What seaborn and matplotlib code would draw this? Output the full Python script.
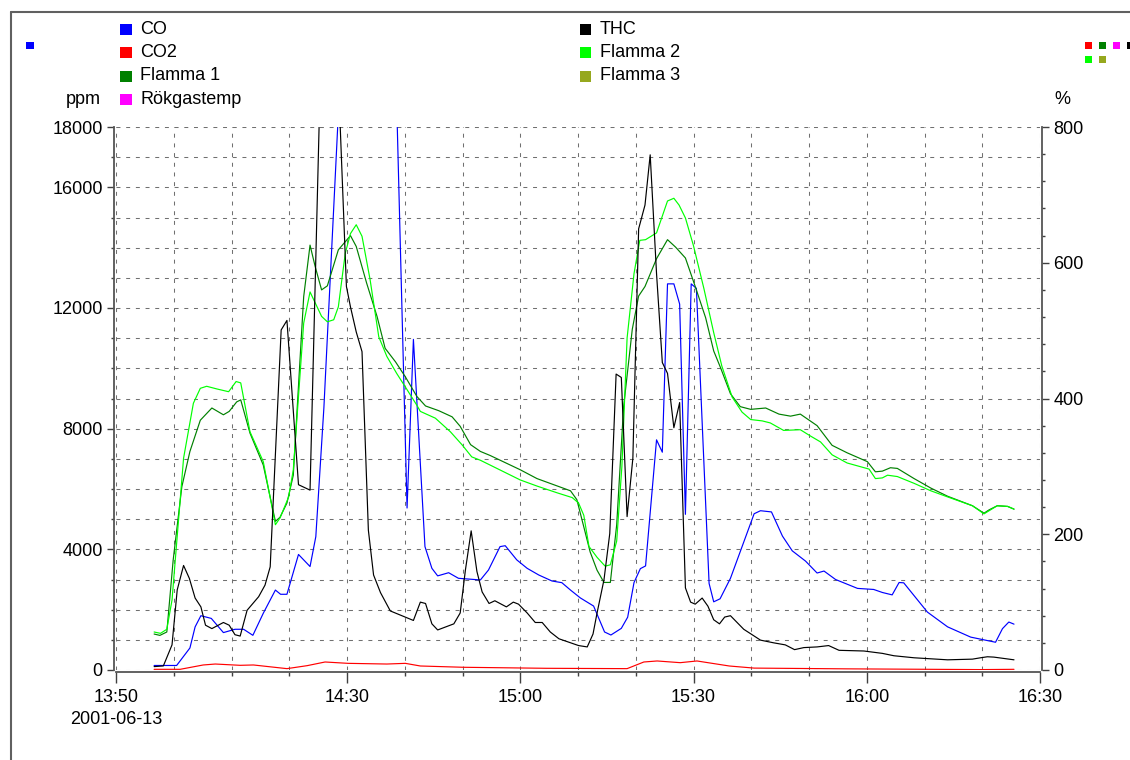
import numpy as np
import pandas as pd
import matplotlib
matplotlib.use("Agg")
import matplotlib.pyplot as plt
import matplotlib.dates as mdates
import matplotlib.transforms as mtransforms
from matplotlib.ticker import FixedLocator, MultipleLocator
from matplotlib.patches import Rectangle
from matplotlib.lines import Line2D
import seaborn as sns

START = pd.Timestamp("2001-06-13 13:50")
DATE_LABEL = "2001-06-13"

# ---- data: minutes after 13:50 and values ----
# CO (ppm, left axis)
co_t = [6.6, 10.5, 12.8, 13.7, 14.7, 16.5, 18.6, 20.6, 22.1, 23.7, 25.5, 27.6, 28.5, 29.6, 31.6, 33.6, 34.6, 36.0,
        38.9, 44.0, 48.6, 50.4, 51.5, 53.5, 54.7, 55.7, 57.6, 59.3, 63.1, 64.5, 66.5, 67.4, 69.4, 71.2, 73.2, 75.5,
        77.2, 78.7, 80.4, 82.7, 84.6, 85.7, 87.5, 88.6, 89.7, 90.8, 91.7, 93.6, 94.6, 95.5, 96.6, 97.6, 98.6, 99.6,
        100.5, 102.7, 103.5, 104.6, 106.4, 110.5, 111.6, 113.5, 115.4, 117.1, 119.4, 121.4, 122.6, 124.6, 128.4,
        131.2, 132.7, 134.4, 135.6, 136.4, 140.5, 144.0, 148.0, 152.3, 153.5, 154.6, 155.5]
co_v = [150, 150, 730, 1430, 1800, 1710, 1240, 1350, 1350, 1150, 1880, 2650, 2510, 2510, 3830, 3430, 4420, 8700,
        20000, 24000, 18800, 5370, 10960, 4090, 3370, 3120, 3225, 3040, 2985, 3315, 4090, 4120, 3650, 3370, 3150, 2950,
        2895, 2650, 2390, 2120, 1260, 1160, 1380, 1750, 2900, 3360, 3450, 7630, 7220, 12800, 12800, 12130, 5160, 12800,
        12650, 2870, 2260, 2360, 3040, 5180, 5280, 5240, 4440, 3950, 3610, 3215, 3280, 3000, 2705,
        2670, 2570, 2490, 2900, 2890, 1920, 1430, 1090, 920, 1370, 1590, 1520]

# THC (% axis)
thc_t = [6.6, 8.2, 9.7, 10.6, 11.7, 12.7, 13.7, 14.7, 15.5, 16.6, 18.6, 19.6, 20.6, 21.5, 22.7, 24.7, 25.8, 26.7,
         28.6, 29.6, 31.6, 33.6, 35.4, 37.0, 38.6, 39.9, 40.6, 41.6, 42.6, 43.7, 44.6, 45.8, 47.5, 51.5, 52.7, 53.6,
         54.7, 55.7, 58.5, 59.6, 60.5, 61.5, 62.5, 63.4, 64.6, 65.6, 67.6, 68.8, 69.7, 71.2, 72.6, 73.8, 75.2, 76.7,
         78.4, 80.1, 81.6, 82.6, 83.3, 84.5, 85.5, 86.6, 87.5, 88.5, 89.5, 90.5, 91.6, 92.5, 93.6, 94.6, 95.5, 96.6,
         97.6, 98.6, 99.5, 100.3, 101.5, 102.5, 103.5, 104.5, 105.4, 106.4, 108.7, 111.6, 113.9, 115.9, 117.5, 119.1,
         121.4, 123.4, 125.2, 129.5, 132.7, 134.7, 138.2, 144.0, 148.3, 149.7, 150.9, 152.0, 155.5]
thc_v = [5, 6, 37, 118, 154, 135, 106, 93, 66, 61, 70, 66, 52, 50, 88, 108, 125, 152,
         501, 515, 273, 265, 880, 1000, 850, 565, 535, 498, 469, 206, 140, 114, 87, 73, 100, 98,
         68, 59, 68, 84, 147, 205, 145, 115, 98, 102, 93, 100, 97, 84, 70, 70, 56, 46,
         41, 36, 34, 53, 84, 133, 201, 436, 431, 226, 312, 650, 685, 759, 584, 453, 437, 357,
         394, 121, 100, 97, 106, 94, 74, 68, 78, 80, 60, 44, 40, 37, 30, 33,
         34, 36, 29, 28, 24.5, 21, 18, 15, 16, 18, 19.5, 19, 15]

# CO2 (% axis)
co2_t = [6.6, 11.1, 15.1, 17.2, 21.5, 23.8, 29.6, 33.1, 36.2, 40.2, 46.9, 50.1, 52.7, 60.2, 74.6, 88.5, 91.4, 93.7,
         97.7, 100.6, 106.2, 110.5, 126.6, 149.7, 155.5]
co2_v = [1, 1, 7.4, 8.8, 6.9, 7.4, 2, 6.4, 11.8, 9.8, 8.8, 9.8, 5.9, 4, 2.5, 2, 11.8, 13.3,
         10.8, 13.3, 5.9, 2.8, 1.7, 0.6, 1]

# Flamma 1 (% axis)
f1_t = [6.6, 7.6, 8.8, 9.9, 11.4, 12.8, 14.6, 16.6, 18.6, 19.6, 20.9, 21.6, 23.2, 25.5, 27.6, 28.4, 29.6, 30.7,
        32.5, 33.6, 34.5, 35.6, 36.6, 38.5, 40.6, 41.6, 43.4, 45.2, 46.6, 48.4, 50.1, 52.1, 53.6, 55.9, 58.2, 59.6,
        61.4, 63.1, 64.8, 70.0, 72.9, 75.8, 78.7, 79.8, 81.0, 82.1, 83.3, 84.5, 85.6, 86.7, 87.9, 89.4, 90.5, 91.6,
        93.6, 95.5, 96.9, 98.6, 100.3, 102.1, 103.5, 104.7, 106.4, 108.1, 109.9, 112.5, 114.8, 116.8, 118.5, 121.4,
        124.0, 126.6, 130.1, 131.5, 132.7, 134.1, 135.3, 138.2, 141.1, 144.0, 148.3, 150.3, 151.2, 152.6, 154.4, 155.5]
f1_v = [53, 51, 56, 162, 270, 322, 368, 386, 376, 381, 395, 398, 349, 302, 219, 225, 246, 287,
        550, 626, 594, 560, 566, 619, 640, 624, 570, 521, 474, 454, 432, 403, 389, 382, 373, 359,
        332, 322, 316, 295, 282, 273, 264, 251, 211, 174, 147, 129, 129, 214, 388, 502, 551, 565,
        606, 634, 623, 607, 565, 519, 470, 445, 407, 388, 384, 386, 377, 374, 377, 360,
        331, 320, 307, 292, 293, 298, 297, 282, 268, 256, 242, 231, 236, 242, 241, 237]

# Flamma 2 (% axis)
f2_t = [6.6, 7.7, 8.8, 9.7, 11.7, 13.4, 14.6, 15.7, 17.5, 19.5, 20.8, 21.6, 23.2, 25.5, 27.6, 28.4, 29.9, 30.7,
        32.5, 33.6, 35.6, 36.6, 37.7, 38.5, 39.7, 40.6, 41.6, 42.6, 44.0, 45.5, 46.9, 48.6, 50.4, 52.1, 52.7, 55.3,
        57.9, 59.9, 61.6, 63.1, 70.0, 72.9, 76.4, 79.0, 80.1, 81.0, 81.9, 83.3, 84.7, 85.6, 86.7, 87.6, 88.5, 89.7,
        90.7, 91.7, 93.6, 95.5, 96.6, 97.5, 98.6, 100.0, 101.8, 103.5, 104.9, 106.7, 108.4, 109.9, 111.9, 113.3,
        115.6, 118.5, 120.2, 122.0, 124.0, 126.6, 130.4, 131.5, 132.7, 133.6, 135.3, 138.2, 141.1, 144.0, 148.3,
        150.3, 152.6, 154.4, 155.5]
f2_v = [56, 54, 60, 103, 312, 393, 415, 418, 414, 410, 425, 423, 351, 307, 214, 224, 255, 295,
        511, 557, 521, 513, 516, 535, 614, 643, 656, 639, 575, 491, 462, 437, 413, 390, 381, 371,
        351, 332, 314, 309, 280, 271, 261, 254, 246, 228, 182, 166, 153, 155, 190, 300, 489, 584,
        633, 634, 644, 691, 695, 685, 666, 625, 562, 497, 448, 402, 380, 369, 367, 364,
        353, 354, 345, 336, 317, 305, 296, 282, 283, 287, 285, 275, 264, 255, 242,
        230, 242, 241, 237]

legend_left = ["CO", "CO2", "Flamma 1", "Rökgastemp"]
legend_right = ["THC", "Flamma 2", "Flamma 3"]
colors = {"CO": "#0000FF", "CO2": "#FF0000", "Flamma 1": "#008000", "Rökgastemp": "#FF00FF",
          "THC": "#000000", "Flamma 2": "#00FF00", "Flamma 3": "#96A81E"}

x_major_min = [0, 40, 70, 100, 130, 160]
x_major_lab = ["13:50", "14:30", "15:00", "15:30", "16:00", "16:30"]
x_minor_min = list(range(0, 161, 10))
y_left_major = [0, 4000, 8000, 12000, 16000, 18000]
y_right_major = [0, 200, 400, 600, 800]

# ---- plotting ----
sns.set_theme(style="white")
plt.rcParams["font.family"] = ["Liberation Sans", "DejaVu Sans"]
plt.rcParams["font.size"] = 13

W, H = 1130, 760
fig = plt.figure(figsize=(W / 100, H / 100), dpi=100)
fig.patch.set_facecolor("white")
ax = fig.add_axes([116 / W, 1 - 670 / H, 924 / W, 543 / H])
ax2 = ax.twinx()


def tt(mins):
    return START + pd.to_timedelta(np.asarray(mins, dtype=float), unit="m")


def dnum(mins):
    return mdates.date2num(tt(mins).to_pydatetime())


lw = 0.85
sns.lineplot(x=tt(co_t), y=co_v, ax=ax, color=colors["CO"], linewidth=lw, zorder=3)
for t, v, name in [(co2_t, co2_v, "CO2"), (f1_t, f1_v, "Flamma 1"), (f2_t, f2_v, "Flamma 2"),
                   (thc_t, thc_v, "THC")]:
    sns.lineplot(x=tt(t), y=v, ax=ax2, color=colors[name], linewidth=lw, zorder=3)

ax.set_xlim(dnum([0])[0], dnum([160])[0])
ax.set_ylim(0, 18000)
ax2.set_ylim(0, 800)
ax.set_xlabel("")
ax.set_ylabel("")
ax2.set_xlabel("")
ax2.set_ylabel("")

# ticks
ax.xaxis.set_major_locator(FixedLocator(dnum(x_major_min)))
ax.xaxis.set_minor_locator(FixedLocator(dnum(x_minor_min)))
ax.set_xticklabels(x_major_lab)
ax.yaxis.set_major_locator(FixedLocator(y_left_major))
ax.yaxis.set_minor_locator(MultipleLocator(1000))
ax.set_yticklabels([str(v) for v in y_left_major])
ax2.yaxis.set_major_locator(FixedLocator(y_right_major))
ax2.yaxis.set_minor_locator(MultipleLocator(40))
ax2.set_yticklabels([str(v) for v in y_right_major])

tick_col = "#404040"
ax.tick_params(axis="x", which="major", bottom=True, length=8, width=1, color=tick_col, labelsize=13, pad=4,
               labelcolor="black")
ax.tick_params(axis="x", which="minor", bottom=True, length=3, width=1, color=tick_col)
ax.tick_params(axis="y", which="major", left=True, length=5, width=1, color=tick_col, labelsize=13, pad=3,
               labelcolor="black")
ax.tick_params(axis="y", which="minor", left=True, length=2.5, width=1, color=tick_col)
ax2.tick_params(axis="y", which="major", right=True, length=5, width=1, color=tick_col, labelsize=13, pad=3,
                labelcolor="black")
ax2.tick_params(axis="y", which="minor", right=True, length=2.5, width=1, color=tick_col)

# date line under the first time label
date_tr = mtransforms.blended_transform_factory(ax.transData, fig.transFigure)
ax.text(dnum([0])[0], 1 - 719 / H, DATE_LABEL, transform=date_tr, ha="center", va="center",
        fontsize=13, color="black", clip_on=False)

# grid
grid_kw = dict(color="#707070", linestyle=(0, (3.8, 5.5)), linewidth=0.75)
ax.grid(True, which="both", axis="both", **grid_kw)
ax.set_axisbelow(True)
xgl = ax.xaxis.get_gridlines()
if len(xgl) > 0:
    xgl[0].set_color("#c8c8c8")
    xgl[-1].set_color("#c8c8c8")

# spines
for a in (ax, ax2):
    for s in a.spines.values():
        s.set_visible(False)
for side in ("left", "bottom"):
    ax.spines[side].set_visible(True)
    ax.spines[side].set_color("#555555")
    ax.spines[side].set_linewidth(1.3)
    ax.spines[side].set_position(("outward", 1.5))
ax2.spines["right"].set_visible(True)
ax2.spines["right"].set_color("#555555")
ax2.spines["right"].set_linewidth(1.3)
ax2.spines["right"].set_position(("outward", 1.5))
ax.patch.set_visible(False)
ax2.patch.set_visible(False)


# ---- legend & decorations (figure pixel coords, origin top-left) ----
def frect(x, y, w, h, color):
    fig.add_artist(Rectangle((x / W, 1 - (y + h) / H), w / W, h / H, transform=fig.transFigure,
                             facecolor=color, edgecolor="none"))


def ftext(x, y, s, ha="left"):
    fig.text(x / W, 1 - y / H, s, ha=ha, va="center", fontsize=13, color="black")


rows = [29, 52.5, 76, 99.5]
for i, name in enumerate(legend_left):
    frect(120, rows[i] - 5.5, 12, 11, colors[name])
    ftext(140, rows[i], name)
for i, name in enumerate(legend_right):
    frect(580, rows[i] - 5.5, 11, 11, colors[name])
    ftext(600, rows[i], name)

ftext(101, 100, "ppm", ha="right")
ftext(1054, 100, "%")

# axis-assignment markers
frect(26, 42, 8, 7, colors["CO"])
for i, name in enumerate(["CO2", "Flamma 1", "Rökgastemp", "THC"]):
    frect(1085 + 14 * i, 42, 7, 7, colors[name])
for i, name in enumerate(["Flamma 2", "Flamma 3"]):
    frect(1085 + 14 * i, 56, 7, 7, colors[name])

# outer frame (left and top edges)
fig.add_artist(Line2D([11 / W, 11 / W], [0, 1 - 12 / H], transform=fig.transFigure, color="#606060", lw=1.5))
fig.add_artist(Line2D([11 / W, 1], [1 - 12 / H, 1 - 12 / H], transform=fig.transFigure, color="#606060", lw=1.5))

fig.savefig("out.png", dpi=100, facecolor="white")
